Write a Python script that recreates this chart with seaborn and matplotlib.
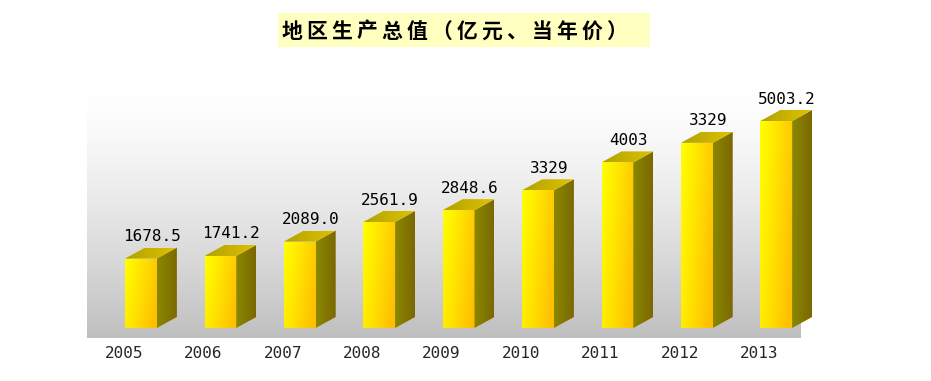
"""
Regional GDP bar chart (3D-looking bars) - seaborn recreation
"""
import numpy as np
import pandas as pd
import matplotlib
matplotlib.use("Agg")
import matplotlib.pyplot as plt
import matplotlib.transforms as mtransforms
from matplotlib.patches import Polygon, Rectangle
import seaborn as sns

# Data
years = ["2005", "2006", "2007", "2008", "2009", "2010", "2011", "2012", "2013"]
gdp = [1678.5, 1741.2, 2089.0, 2561.9, 2848.6, 3329, 4003, 4475, 5003.2]
value_labels = ["1678.5", "1741.2", "2089.0", "2561.9", "2848.6",
                "3329", "4003", "3329", "5003.2"]
title_text = "地区生产总值（亿元、当年价）"

W, H = 931, 381
NUM_FONT = "DejaVu Sans Mono"

sns.set_style("white")
plt.rcParams["font.family"] = ["Noto Sans CJK SC", "DejaVu Sans"]

fig = plt.figure(figsize=(W / 100, H / 100), dpi=100)
ax = fig.add_axes([87 / W, 43 / H, (840 - 87) / W, (338 - 70) / H])
ax.patch.set_visible(False)

df = pd.DataFrame({"year": years, "gdp": gdp})
sns.barplot(data=df, x="year", y="gdp", color="#FFD700", width=0.4,
            saturation=1, edgecolor="none", ax=ax, zorder=2)

xlo, xhi = -0.68, 8.803
ylo, yhi = -241.7, 6236
wall_right = 8.30

# pixel -> data conversions for the 3D depth
px_per_x = (840 - 87) / (xhi - xlo)
px_per_y = (338 - 70) / (yhi - ylo)
dx = 20 / px_per_x
dy = 11 / px_per_y

# back wall gradient (white at top -> grey at bottom)
t = np.clip(np.linspace(-0.08, 1, 256), 0, 1) ** 1.35
g = (255 - 64 * t) / 255
wall = np.dstack([g, g, g]).reshape(256, 1, 3)
ax.imshow(wall, extent=[xlo, wall_right, ylo, yhi], aspect="auto",
          origin="upper", zorder=0, interpolation="bilinear")

# gradient images for the bar faces
tx = np.linspace(0, 1, 64)[None, :]
ty = np.linspace(0, 1, 64)[:, None]
front_g = np.clip(255 - 52 * tx ** 1.1 - 18 * ty, 190, 255) / 255
front = np.dstack([np.ones_like(front_g), front_g, np.zeros_like(front_g)])

side_r = (138 - 14 * tx) / 255 * np.ones_like(ty)
side_gc = (136 - 32 * tx) / 255 * np.ones_like(ty)
side = np.dstack([side_r, side_gc, np.zeros_like(side_r)])

top_r = (178 + 45 * tx) / 255 * np.ones_like(ty)
top_gc = (162 + 32 * tx) / 255 * np.ones_like(ty)
top = np.dstack([top_r, top_gc, np.zeros_like(top_r)])

for p, lab in zip(ax.patches, value_labels):
    x0, w, h = p.get_x(), p.get_width(), p.get_height()
    x1 = x0 + w
    p.set_visible(False)

    fr = Rectangle((x0, 0), w, h, facecolor="none", edgecolor="none")
    ax.add_patch(fr)
    im = ax.imshow(front, extent=[x0, x1, 0, h], aspect="auto",
                   origin="upper", zorder=3, interpolation="bilinear")
    im.set_clip_path(fr)

    sp = Polygon([(x1, 0), (x1 + dx, dy), (x1 + dx, h + dy), (x1, h)],
                 closed=True, facecolor="none", edgecolor="none")
    ax.add_patch(sp)
    im = ax.imshow(side, extent=[x1, x1 + dx, 0, h + dy], aspect="auto",
                   origin="upper", zorder=3, interpolation="bilinear")
    im.set_clip_path(sp)

    tp = Polygon([(x0, h), (x1, h), (x1 + dx, h + dy), (x0 + dx, h + dy)],
                 closed=True, facecolor="none", edgecolor="none")
    ax.add_patch(tp)
    im = ax.imshow(top, extent=[x0, x1 + dx, h, h + dy], aspect="auto",
                   origin="upper", zorder=3, interpolation="bilinear")
    im.set_clip_path(tp)

    ax.annotate(lab, xy=(x0 + w / 2, h), xytext=(11, 22),
                textcoords="offset pixels", ha="center", va="center",
                fontsize=11.5, family=NUM_FONT, color="black", zorder=5)

ax.set_xlim(xlo, xhi)
ax.set_ylim(ylo, yhi)
ax.set_xlabel("")
ax.set_ylabel("")
ax.set_yticks([])
ax.tick_params(axis="x", length=0, pad=6)
ax.set_xticks(range(len(years)))
ax.set_xticklabels(years, fontsize=11.5, family=NUM_FONT)
shift = mtransforms.ScaledTranslation(-17 / 100, 0, fig.dpi_scale_trans)
for lbl in ax.get_xticklabels():
    lbl.set_transform(lbl.get_transform() + shift)
sns.despine(ax=ax, left=True, bottom=True)

# title in a light yellow box, characters spaced out
fig.patches.append(Rectangle((278 / W, (H - 47) / H), 372 / W, 34 / H,
                             transform=fig.transFigure, facecolor="#FFFFC0",
                             edgecolor="none", zorder=0))
for i, ch in enumerate(title_text):
    fig.text((292 + 25 * i) / W, (H - 31) / H, ch, ha="center",
             va="center", fontsize=15, fontweight="bold", color="black")

fig.savefig("out.png", dpi=100)
